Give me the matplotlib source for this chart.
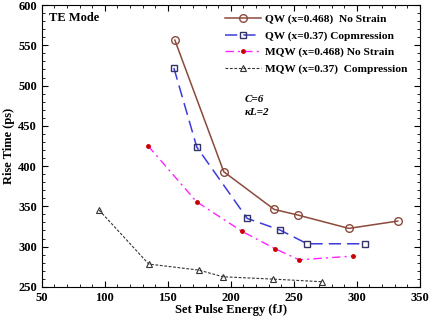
import matplotlib
matplotlib.use('Agg')
import matplotlib.pyplot as plt
from matplotlib.ticker import MultipleLocator

plt.rcParams['font.family'] = ['Liberation Serif', 'DejaVu Serif']
plt.rcParams['font.weight'] = 'bold'

# QW (x=0.468) No Strain
qw1_x = [155.6, 194.4, 234.4, 253.7, 293.7, 332.5]
qw1_y = [556.5, 393.0, 346.2, 339.0, 322.6, 331.7]
# QW (x=0.37) Compression
qw2_x = [154.8, 173.0, 213.0, 239.2, 260.6, 306.6]
qw2_y = [522.0, 423.6, 335.0, 320.5, 303.5, 303.5]
# MQW (x=0.468) No Strain
mqw1_x = [134.4, 172.8, 208.5, 235.2, 254.2, 297.1]
mqw1_y = [425.0, 355.7, 319.3, 297.3, 283.6, 288.2]
# MQW (x=0.37) Compression
mqw2_x = [95.5, 134.9, 174.6, 193.9, 233.6, 272.7]
mqw2_y = [345.3, 278.3, 270.8, 262.5, 259.6, 256.3]

labels = ['QW (x=0.468)  No Strain', 'QW (x=0.37) Copmression',
          'MQW (x=0.468) No Strain', 'MQW (x=0.37)  Compression']

fig = plt.figure(figsize=(4.31, 3.18), dpi=100)
ax = fig.add_axes([0.097, 0.098, 0.877, 0.886])

ax.plot(qw1_x, qw1_y, '-', color='#8b4a3c', lw=1.1, marker='o', ms=5.5,
        mfc='none', mec='#8b4a3c', mew=1.0, label=labels[0])
ax.plot(qw2_x, qw2_y, color='#3b3bdd', lw=1.1, dashes=(8, 4), marker='s', ms=4.5,
        mfc='none', mec='#333366', mew=1.0, label=labels[1])
ax.plot(mqw1_x, mqw1_y, color='#ff22ff', lw=1.0, dashes=(6, 3, 1.5, 3), marker='o', ms=2.5,
        mfc='#cc0000', mec='#cc0000', label=labels[2])
ax.plot(mqw2_x, mqw2_y, color='#333333', lw=0.8, dashes=(2.5, 1.5), marker='^', ms=4,
        mfc='none', mec='#333333', mew=0.8, label=labels[3])

ax.set_xlim(50, 350)
ax.set_ylim(250, 600)
ax.xaxis.set_major_locator(MultipleLocator(50))
ax.xaxis.set_minor_locator(MultipleLocator(10))
ax.yaxis.set_major_locator(MultipleLocator(50))
ax.yaxis.set_minor_locator(MultipleLocator(10))
ax.tick_params(which='both', direction='in', top=True, right=True, labelsize=9)
ax.tick_params(which='major', length=4)
ax.tick_params(which='minor', length=2)

ax.set_xlabel('Set Pulse Energy (fJ)', fontsize=9, fontweight='bold', labelpad=0)
ax.set_ylabel('Rise Time (ps)', fontsize=9, fontweight='bold', labelpad=2)

ax.text(56, 584, 'TE Mode', fontsize=9, fontweight='bold', va='center')
ax.text(211, 483, 'C=6', fontsize=8, style='italic', va='center')
ax.text(211, 467, 'κL=2', fontsize=8, style='italic', va='center')

leg = ax.legend(loc='upper left', bbox_to_anchor=(0.484, 0.968), frameon=False,
                fontsize=8.2, handlelength=3.2, handletextpad=0.3,
                labelspacing=0.55, borderaxespad=0, borderpad=0)

fig.savefig('out.png', dpi=100)
